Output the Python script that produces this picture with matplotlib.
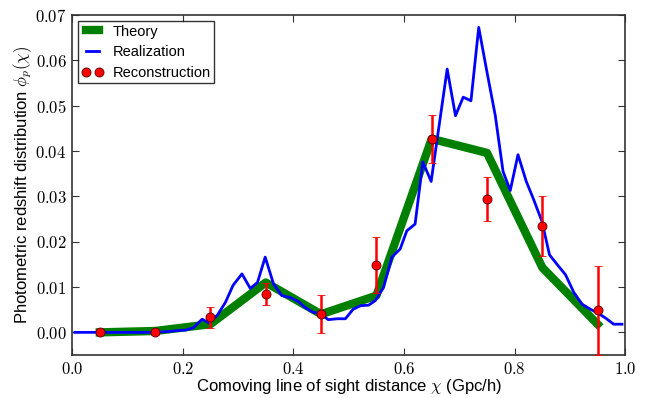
import numpy as np
import matplotlib
matplotlib.use('Agg')
import matplotlib.pyplot as plt
from matplotlib.lines import Line2D

plt.rcParams['font.family'] = ['Liberation Sans', 'DejaVu Sans']
plt.rcParams['mathtext.fontset'] = 'cm'

# Theory (thick green)
theory_x = [0.05, 0.15, 0.25, 0.35, 0.45, 0.55, 0.65, 0.75, 0.85, 0.95]
theory_y = [0.0, 0.0003, 0.0018, 0.0110, 0.0040, 0.0081, 0.0427, 0.0396, 0.0143, 0.0018]

# Reconstruction with error bars
rec_x = [0.05, 0.15, 0.25, 0.35, 0.45, 0.55, 0.65, 0.75, 0.85, 0.95]
rec_y = [0.0, 0.0001, 0.0033, 0.0085, 0.0040, 0.0149, 0.0427, 0.0294, 0.0235, 0.0049]
rec_err = [0.0003, 0.0007, 0.0023, 0.0025, 0.0042, 0.0062, 0.0053, 0.0049, 0.0066, 0.0098]

# Realization (blue)
real_x = [0.005, 0.03, 0.06, 0.09, 0.12, 0.15, 0.16, 0.175, 0.19, 0.205, 0.219,
          0.235, 0.247, 0.262, 0.277, 0.291, 0.307, 0.322, 0.335, 0.349, 0.364,
          0.379, 0.394, 0.409, 0.421, 0.436, 0.448, 0.463, 0.479, 0.494, 0.508,
          0.522, 0.536, 0.548, 0.563, 0.578, 0.593, 0.605, 0.620, 0.634, 0.649,
          0.678, 0.693, 0.707, 0.721, 0.735, 0.750, 0.765, 0.779, 0.792, 0.806,
          0.821, 0.834, 0.849, 0.863, 0.876, 0.892, 0.907, 0.922, 0.937, 0.951,
          0.965, 0.979, 0.994]
real_y = [0.0, 0.0, 0.0, 0.0, 0.0, 0.0, 0.0001, 0.0002, 0.0004, 0.0005, 0.0010,
          0.0029, 0.0021, 0.0037, 0.0066, 0.0104, 0.0129, 0.0097, 0.0110, 0.0166, 0.0107,
          0.0081, 0.0077, 0.0068, 0.0055, 0.0044, 0.0042, 0.0028, 0.0030, 0.0030, 0.0051,
          0.0059, 0.0060, 0.0070, 0.0099, 0.0166, 0.0184, 0.0224, 0.0239, 0.0376, 0.0333,
          0.0581, 0.0478, 0.0519, 0.0511, 0.0673, 0.0574, 0.0478, 0.0355, 0.0313, 0.0392,
          0.0333, 0.0294, 0.0246, 0.0171, 0.0151, 0.0127, 0.0088, 0.0062, 0.0051, 0.0042,
          0.0031, 0.0018, 0.0018]

xticks = [0.0, 0.2, 0.4, 0.6, 0.8, 1.0]
yticks = [0.00, 0.01, 0.02, 0.03, 0.04, 0.05, 0.06, 0.07]

fig = plt.figure(figsize=(6.5, 3.98), dpi=100)
ax = fig.add_axes([0.111, 0.108, 0.851, 0.854])

ax.plot(theory_x, theory_y, color='green', lw=6, zorder=2)
ax.plot(real_x, real_y, color='blue', lw=2, zorder=3)
ax.errorbar(rec_x, rec_y, yerr=rec_err, fmt='o', color='red', ecolor='red',
            mec='#550000', mew=0.6, ms=6.5, elinewidth=1.8, capsize=3, capthick=1.3,
            zorder=4)

ax.set_xlim(0.0, 1.0)
ax.set_ylim(-0.005, 0.07)
ax.set_xticks(xticks)
ax.set_yticks(yticks)
ax.set_xticklabels(['$%.1f$' % t for t in xticks], fontsize=12)
ax.set_yticklabels(['$%.2f$' % t for t in yticks], fontsize=12)
ax.tick_params(direction='in', top=True, right=True, length=5, width=0.8,
               color='#333333', pad=4)
for s in ax.spines.values():
    s.set_color('#333333')
    s.set_linewidth(1.2)

ax.set_xlabel(r'Comoving line of sight distance $\chi$ (Gpc/h)', fontsize=12, labelpad=0)
ax.set_ylabel(r'Photometric redshift distribution $\phi_p(\chi)$', fontsize=12, labelpad=1)

handles = [
    Line2D([], [], color='green', lw=6),
    Line2D([], [], color='blue', lw=2),
    Line2D([], [], color='red', ls='none', marker='o', ms=6.5, mec='#550000', mew=0.6),
]
leg = ax.legend(handles, ['Theory', 'Realization', 'Reconstruction'],
                loc='upper left', numpoints=2, fontsize=10.5, fancybox=False,
                borderaxespad=0.4, handlelength=1.5, labelspacing=0.45,
                handletextpad=0.6, borderpad=0.25)
leg.get_frame().set_edgecolor('black')
leg.get_frame().set_linewidth(1.0)

plt.savefig('out.png', dpi=100)
plt.close()
